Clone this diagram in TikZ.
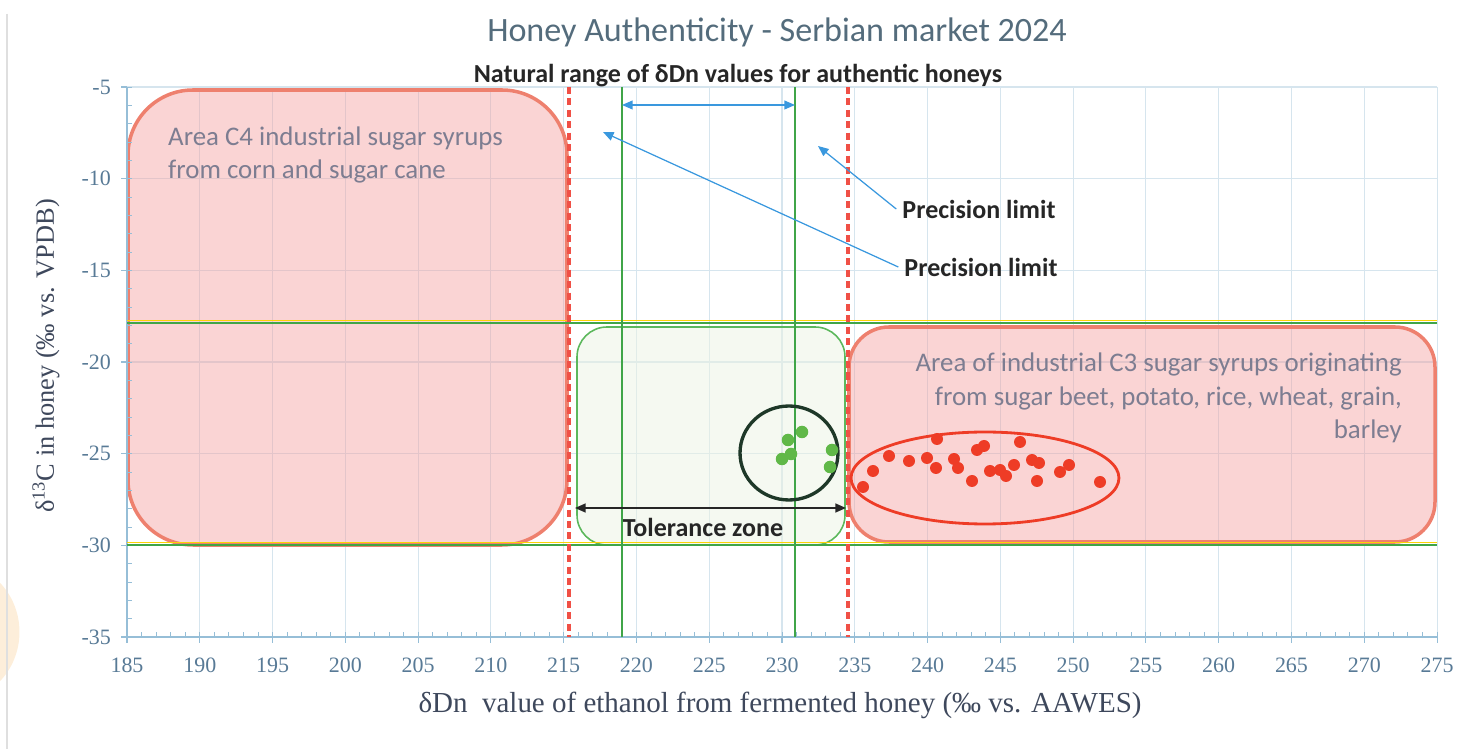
\documentclass[tikz,border=0pt]{standalone}
\usepackage{fontspec}
\setmainfont{Liberation Serif}
\newfontfamily\calfont{Carlito}
\usetikzlibrary{arrows.meta}

\definecolor{gridblue}{RGB}{214,229,238}
\definecolor{axisblue}{RGB}{150,190,215}
\definecolor{tickc}{RGB}{88,122,150}
\definecolor{titlec}{RGB}{84,108,124}
\definecolor{axtitle}{RGB}{62,72,92}
\definecolor{areac}{RGB}{125,125,145}
\definecolor{limitred}{RGB}{240,80,70}
\definecolor{redline}{RGB}{238,128,110}
\definecolor{redfill}{RGB}{244,160,160}
\definecolor{natgreen}{RGB}{64,165,72}
\definecolor{tolgreen}{RGB}{92,184,92}
\definecolor{tolfill}{RGB}{236,244,228}
\definecolor{arrowblue}{RGB}{58,152,222}
\definecolor{reddot}{RGB}{238,60,38}
\definecolor{greendot}{RGB}{96,184,72}
\definecolor{ringdark}{RGB}{30,56,40}
\definecolor{peach}{RGB}{253,238,218}

\begin{document}
\begin{tikzpicture}[x=0.02cm,y=-0.02cm,
  grid/.style={draw=gridblue,line width=0.6pt},
  redbox/.style={draw=redline,fill=redfill,fill opacity=0.45,line width=2pt},
  limit/.style={draw=limitred,line width=1.8pt,dash pattern=on 4pt off 2.5pt},
  greenline/.style={draw=natgreen,line width=1.3pt},
  bluearrow/.style={draw=arrowblue,fill=arrowblue,line width=0.7pt},
  ticklab/.style={text=tickc,font=\fontsize{12.5}{14}\selectfont},
  note/.style={font=\calfont\bfseries\fontsize{14.8}{16}\selectfont,text=black!85},
  areatext/.style={font=\calfont\fontsize{15.3}{18.9}\selectfont,text=areac}]

\useasboundingbox (0,0) rectangle (1472,749);

% page edge
\fill[peach] (-48,632) ellipse [x radius=1.35cm, y radius=1.4cm];
\draw[gray!25,line width=1.2pt] (7,14) -- (7,749);

% grid
\foreach \i in {0,...,18}
{
\draw[grid] ({127+72.78*\i},87) -- ({127+72.78*\i},637);
}
\foreach \j in {0,...,6}
{
\draw[grid] (127,{87+91.67*\j}) -- (1437,{87+91.67*\j});
}

% areas
\draw[redbox,rounded corners=1.3cm] (128,90) rectangle (567,545);
\draw[redbox,rounded corners=0.8cm] (849,327) rectangle (1435,542);
\draw[draw=tolgreen,fill=tolfill,fill opacity=0.5,line width=0.9pt,rounded corners=0.6cm] (577,327) rectangle (845,545);

% axes and ticks
\draw[axisblue,line width=0.8pt] (127,87) -- (127,637) -- (1437,637);
\foreach \i in {0,...,90}
{
\draw[axisblue,line width=0.5pt] ({127+14.556*\i},637) -- ++(0,-5);
}
\foreach \j in {0,...,30}
{
\draw[axisblue,line width=0.5pt] (127,{87+18.333*\j}) -- ++(5,0);
}
\foreach \v [count=\i from 0] in {185,190,...,275}
{
\draw[axisblue,line width=0.6pt] ({127+72.78*\i},637) -- ++(0,6);
\node[ticklab] (xl\v) at ({127+72.78*\i},665) {\v};
}
\foreach \v [count=\j from 0] in {5,10,...,35}
{
\draw[axisblue,line width=0.6pt] (127,{87+91.67*\j}) -- ++(-6,0);
\node[ticklab,anchor=east] (yl\v) at (117,{87+91.67*\j}) {-\v};
}

% d13C limits
\foreach \y in {323,545}
{
\draw[yellow!70!orange,line width=0.6pt] (127,\y-2.5) -- (1437,\y-2.5);
\draw[greenline] (127,\y) -- (1437,\y);
}
% natural range
\foreach \x in {622,795}
{
\draw[greenline] (\x,87) -- (\x,637);
}
% precision limits
\foreach \x in {569,848}
{
\draw[limit] (\x,87) -- (\x,637);
}

% samples
\draw[reddot,line width=1.6pt] (985,478) ellipse [x radius=2.68cm, y radius=0.92cm];
\foreach \p/\q in {863/487,873/471,889/456,909/461,927/458,937/439,936/468,954/459,
  958/468,972/481,977/450,984/446,990/471,1000/470,1006/476,1014/465,1020/442,
  1032/460,1039/463,1037/481,1060/472,1069/465,1100/482}
{
\fill[reddot] (\p,\q) circle (0.12cm);
}
\draw[ringdark,line width=1.9pt] (789,453) ellipse [x radius=0.98cm, y radius=0.94cm];
\foreach \p/\q in {788/440,802/432,782/459,791/454,832/450,830/467}
{
\fill[greendot] (\p,\q) circle (0.125cm);
}

% texts
\node[font=\calfont\fontsize{19.4}{22}\selectfont,text=titlec] (title) at (777,32) {Honey Authenticity - Serbian market 2024};
\node[note] (natrange) at (738,76) {Natural range of δDn values for authentic honeys};
\node[areatext,align=left,anchor=west] (c4text) at (162,155) {Area C4 industrial sugar syrups\\from corn and sugar cane};
\node[areatext,align=right,anchor=east] (c3text) at (1408,398) {Area of industrial C3 sugar syrups originating\\from sugar beet, potato, rice, wheat, grain,\\barley};
\node[note] (tolzone) at (703,527) {Tolerance zone};
\node[note] (prec1) at (979,209) {Precision limit};
\node[note] (prec2) at (981,267) {Precision limit};
\node[rotate=90,text=axtitle,font=\fontsize{15}{17}\selectfont] (ytitle) at (46,356) {δ\textsuperscript{13}C in honey (‰ vs. VPDB)};
\node[text=axtitle,font=\fontsize{16.5}{18}\selectfont] (xtitle) at (780,705) {δDn\ \ value of ethanol from fermented honey (‰ vs. AAWES)};

% arrows
\coordinate (nrL) at (622,105);
\coordinate (nrR) at (795,105);
\coordinate (tip1) at (818,146);
\coordinate (tip2) at (603,132);
\coordinate (tzL) at (575,508);
\coordinate (tzR) at (846,508);
\draw[bluearrow,{Triangle[length=6pt,width=5pt]}-{Triangle[length=6pt,width=5pt]}] (nrL) -- (nrR);
\draw[bluearrow,-{Triangle[length=6pt,width=5pt]}] (prec1.west) -- (tip1);
\draw[bluearrow,-{Triangle[length=6pt,width=5pt]}] (prec2.west) -- (tip2);
\draw[black!85,line width=1pt,{Triangle[length=6pt,width=5pt]}-{Triangle[length=6pt,width=5pt]}] (tzL) -- (tzR);

\end{tikzpicture}
\end{document}
